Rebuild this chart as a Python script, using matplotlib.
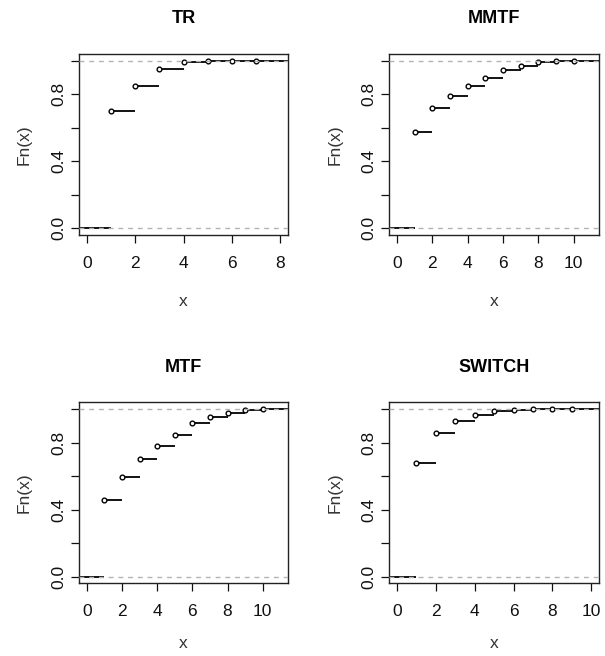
import matplotlib
matplotlib.use("Agg")
import matplotlib.pyplot as plt
import numpy as np

plt.rcParams['font.family'] = ['Liberation Sans', 'DejaVu Sans']

# ECDF values: knots and Fn at each knot
tr_x = [1, 2, 3, 4, 5, 6, 7]
tr_f = [0.70, 0.85, 0.95, 0.99, 0.997, 0.999, 1.0]

mmtf_x = [1, 2, 3, 4, 5, 6, 7, 8, 9, 10]
mmtf_f = [0.576, 0.716, 0.79, 0.848, 0.894, 0.946, 0.968, 0.99, 0.997, 1.0]

mtf_x = [1, 2, 3, 4, 5, 6, 7, 8, 9, 10]
mtf_f = [0.456, 0.592, 0.702, 0.78, 0.848, 0.914, 0.952, 0.976, 0.995, 1.0]

sw_x = [1, 2, 3, 4, 5, 6, 7, 8, 9]
sw_f = [0.68, 0.854, 0.93, 0.966, 0.988, 0.996, 0.998, 0.999, 1.0]

panels = [("TR", tr_x, tr_f), ("MMTF", mmtf_x, mmtf_f),
          ("MTF", mtf_x, mtf_f), ("SWITCH", sw_x, sw_f)]

yticks = [0.0, 0.2, 0.4, 0.6, 0.8, 1.0]
ylabels = ["0.0", "", "0.4", "", "0.8", ""]

fig = plt.figure(figsize=(6.05, 6.56), dpi=100)

# axes boxes in figure fractions (left, bottom, width, height)
boxes = [(0.1306, 0.6418, 0.3455, 0.2759), (0.6435, 0.6418, 0.3466, 0.2759),
         (0.1306, 0.1108, 0.3455, 0.2759), (0.6435, 0.1108, 0.3466, 0.2759)]

for i, ((name, xs, fs), box) in enumerate(zip(panels, boxes)):
    ax = fig.add_axes(box)
    xs = np.array(xs, dtype=float)
    fs = np.array(fs, dtype=float)
    # R's plot.ecdf limits: extend by one step each side, then 4%
    lo, hi = xs.min() - 1, xs.max() + 1
    ext = 0.04 * (hi - lo)
    xl = (lo - ext, hi + ext)

    # step segments
    ax.hlines(0, xl[0], xs[0], color="black", lw=1.3)
    ax.hlines(fs[:-1], xs[:-1], xs[1:], color="black", lw=1.3)
    ax.hlines(fs[-1], xs[-1], xl[1], color="black", lw=1.3)
    ax.plot(xs, fs, "o", ms=3.4, mfc="white", mec="black", mew=1.0, zorder=3)

    # reference lines at 0 and 1
    for h in (0, 1):
        ax.axhline(h, color="#b3b3b3", lw=1, ls=(0, (3.5, 3.5)), zorder=4)

    ax.set_xlim(xl)
    ax.set_ylim(-0.04, 1.04)
    ax.set_xticks(np.arange(0, hi + 0.01, 2))
    ax.set_yticks(yticks)
    ax.set_yticklabels(ylabels)
    for lab in ax.get_yticklabels():
        lab.set_rotation(90)
        lab.set_va("center")

    ax.tick_params(axis="both", direction="out", length=6, width=0.9,
                   labelsize=12.5, colors="#111111")
    ax.tick_params(axis="x", pad=9)
    ax.tick_params(axis="y", pad=3)
    for s in ax.spines.values():
        s.set_linewidth(1.0)
        s.set_color("#222222")

    ax.set_title(name, fontsize=13, fontweight="bold", pad=22)
    # bottom row sits at the figure edge, pull its x label up a little
    ax.set_xlabel("x", fontsize=12.5, color="#333333",
                  labelpad=17 if i < 2 else 12)
    ax.set_ylabel("Fn(x)", fontsize=12.5, color="#333333", labelpad=14)

fig.savefig("out.png", dpi=100)
